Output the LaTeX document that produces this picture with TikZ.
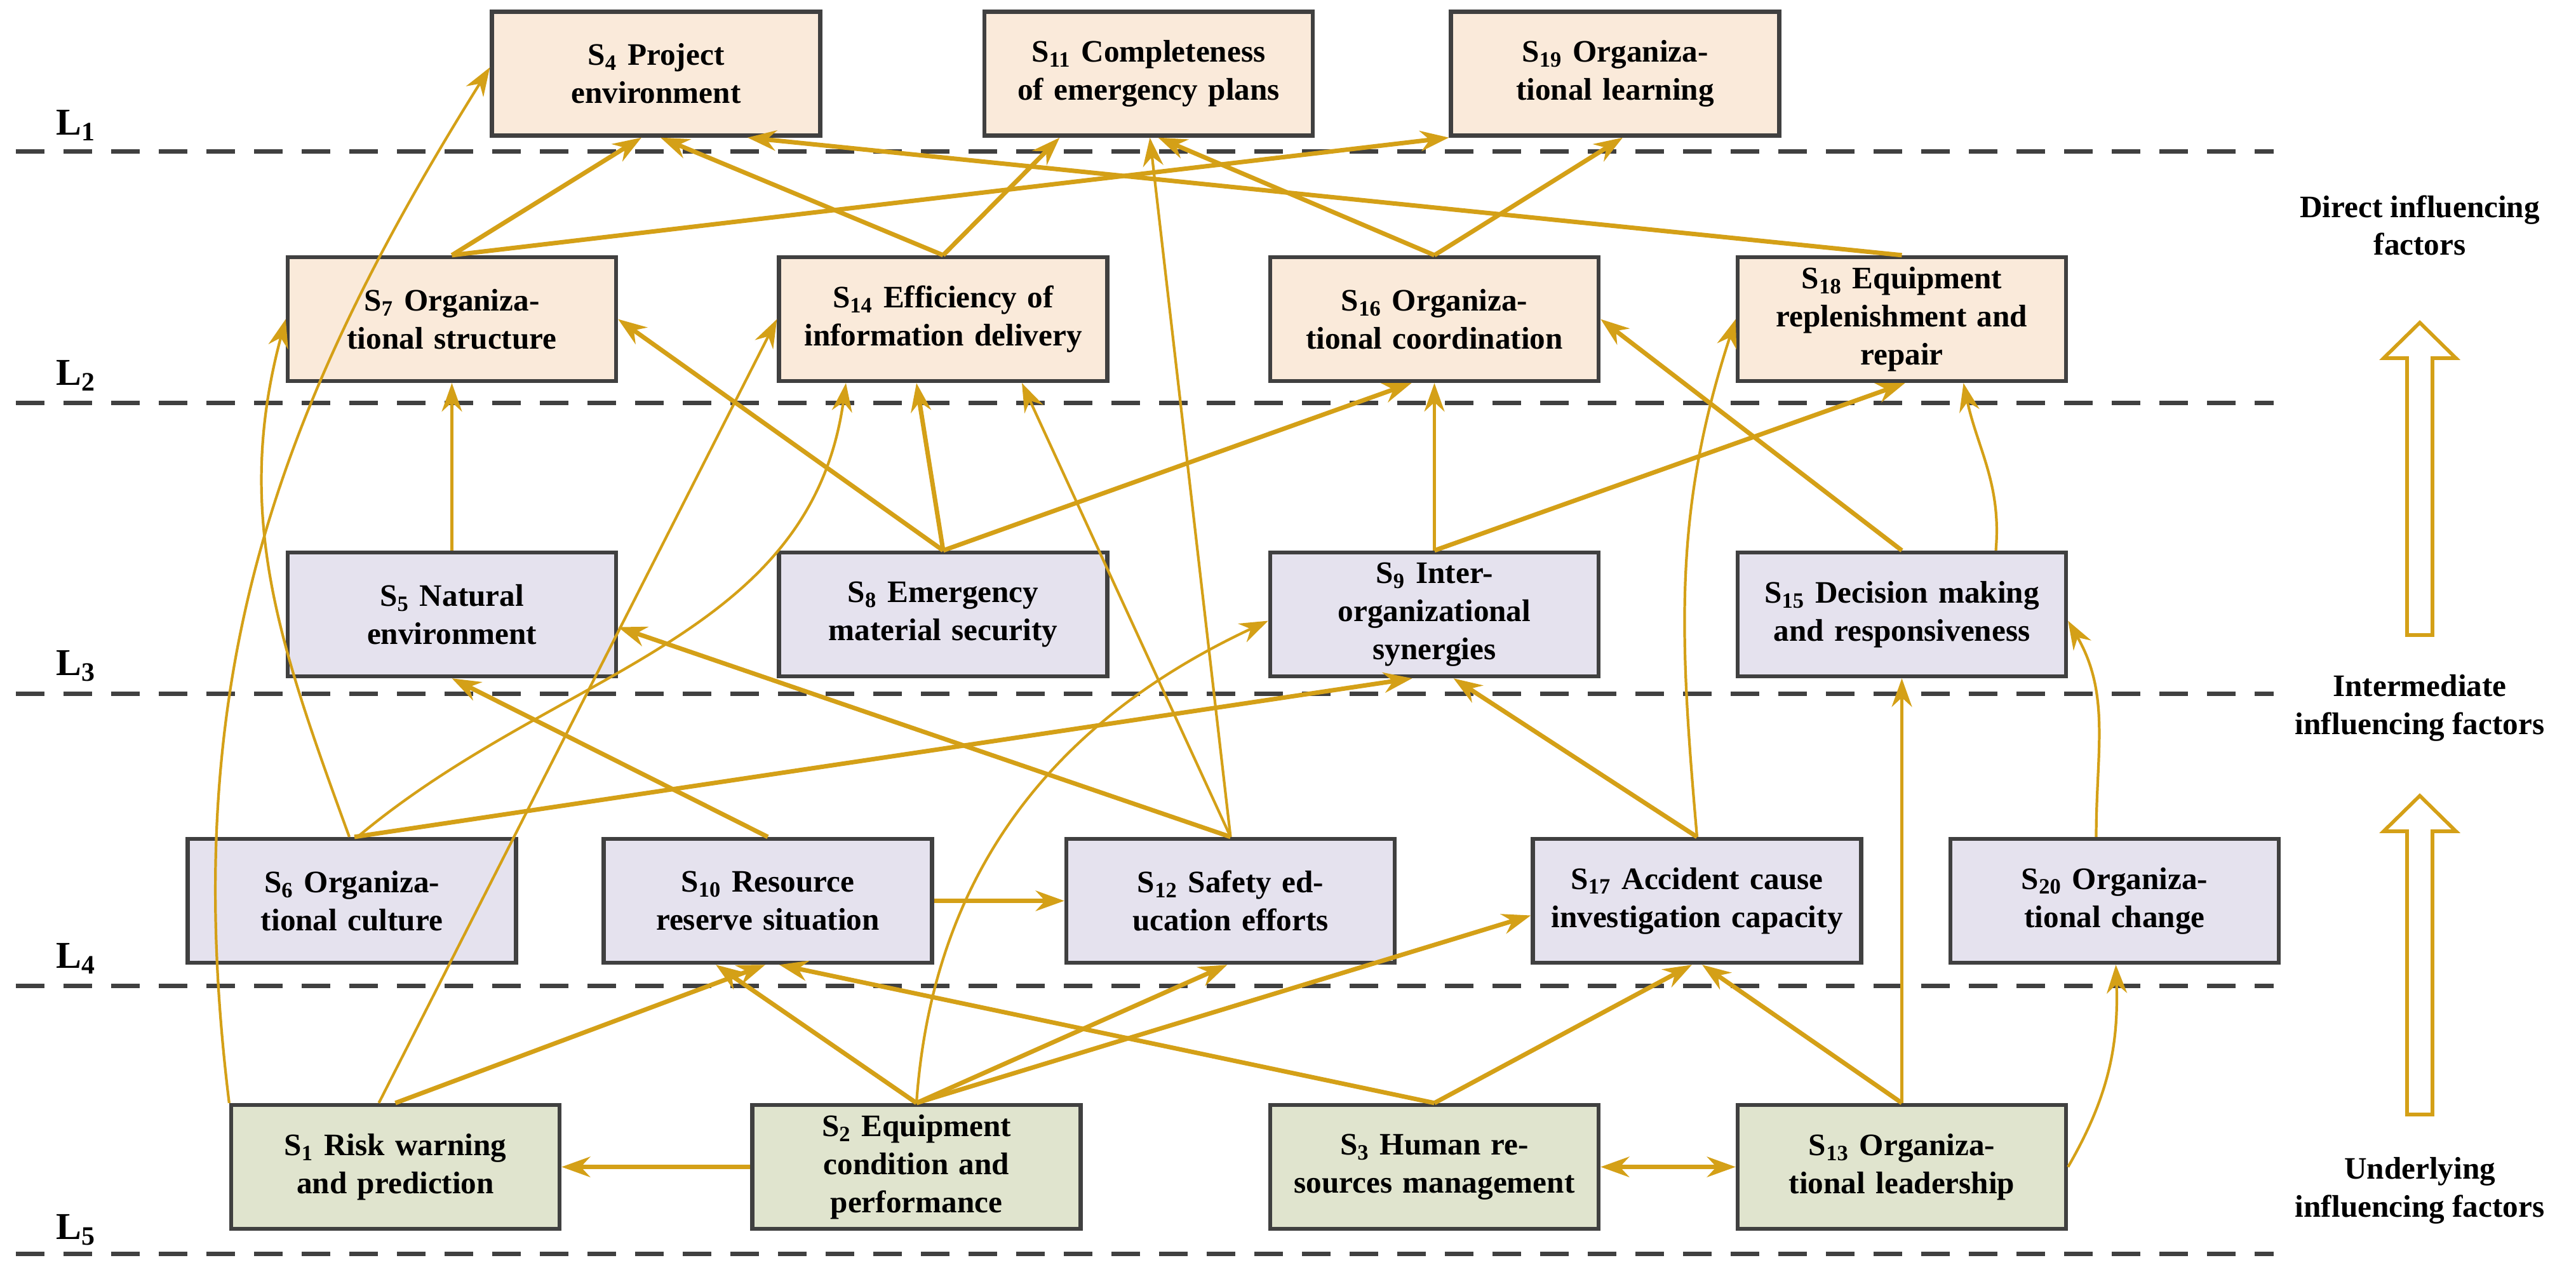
\documentclass[tikz,border=0pt]{standalone}
\usepackage{fontspec}
\setmainfont{Liberation Serif}
\usetikzlibrary{arrows.meta}
\definecolor{gold}{RGB}{212,160,23}
\definecolor{frame}{RGB}{64,64,64}
\definecolor{topfill}{RGB}{250,234,218}
\definecolor{midfill}{RGB}{229,226,238}
\definecolor{lowfill}{RGB}{224,228,206}
\tikzset{
  box/.style={draw=frame,line width=1.8pt,minimum width=5.17cm,minimum height=1.95cm,
    inner sep=0pt,text width=4.7cm,align=center,font=\fontsize{14}{17}\selectfont\bfseries},
  direct/.style={box,fill=topfill},
  inter/.style={box,fill=midfill},
  under/.style={box,fill=lowfill},
  conn/.style={draw=gold,line width=2pt,-{Stealth[length=4.5mm,width=3.2mm]}},
  thin/.style={conn,line width=1.2pt},
  level/.style={draw=frame,line width=2pt,dash pattern=on 4.5mm off 3mm},
  lab/.style={font=\fontsize{17}{20}\selectfont\bfseries},
  side/.style={font=\fontsize{14}{17}\selectfont\bfseries,align=center},
  hollow/.style={draw=gold,line width=1.6pt,fill=white}
}
\newcommand{\sid}[1]{S\textsubscript{#1}}
\begin{document}
\begin{tikzpicture}
\useasboundingbox (0,0) rectangle (40.56,-20.02);
% level lines
\foreach \y/\n/\ly in {-2.38/1/-1.97,-6.34/2/-5.91,-10.92/3/-10.49,-15.52/4/-15.09,-19.74/5/-19.37}{
  \draw[level] (0.25,\y) -- (35.8,\y);
  \node[lab] (l\n) at (1.2,\ly) {L\textsubscript{\n}};
}
% direct factors
\node[direct] (s4) at (10.33,-1.16) {\sid{4} Project\\environment};
\node[direct] (s11) at (18.085,-1.16) {\sid{11} Completeness of emergency plans};
\node[direct] (s19) at (25.43,-1.16) {\sid{19} Organizational learning};
\node[direct] (s7) at (7.115,-5.025) {\sid{7} Organizational structure};
\node[direct] (s14) at (14.85,-5.025) {\sid{14} Efficiency of information delivery};
\node[direct] (s16) at (22.585,-5.025) {\sid{16} Organizational coordination};
\node[direct] (s18) at (29.945,-5.025) {\sid{18} Equipment\\replenishment and\\repair};
% intermediate factors
\node[inter] (s5) at (7.115,-9.675) {\sid{5} Natural\\environment};
\node[inter] (s8) at (14.85,-9.675) {\sid{8} Emergency\\material security};
\node[inter] (s9) at (22.585,-9.675) {\sid{9} Inter-\\organizational\\synergies};
\node[inter] (s15) at (29.945,-9.675) {\sid{15} Decision making and responsiveness};
\node[inter] (s6) at (5.54,-14.185) {\sid{6} Organizational culture};
\node[inter] (s10) at (12.09,-14.185) {\sid{10} Resource reserve situation};
\node[inter] (s12) at (19.375,-14.185) {\sid{12} Safety education efforts};
\node[inter] (s17) at (26.72,-14.185) {\sid{17} Accident cause investigation capacity};
\node[inter] (s20) at (33.295,-14.185) {\sid{20} Organizational change};
% underlying factors
\node[under] (s1) at (6.225,-18.375) {\sid{1} Risk warning and prediction};
\node[under] (s2) at (14.43,-18.375) {\sid{2} Equipment\\condition and\\performance};
\node[under] (s3) at (22.585,-18.375) {\sid{3} Human resources management};
\node[under] (s13) at (29.945,-18.375) {\sid{13} Organizational leadership};
% to level 1
\draw[thin] (s1.north west) to[out=97,in=238] ([yshift=1mm]s4.west);
\draw[conn] (s7.north) -- ([xshift=-2.3mm]s4.south);
\draw[conn] (s14.north) -- ([xshift=0.7mm]s4.south);
\draw[conn] (s18.north) -- ([xshift=14.4mm]s4.south);
\draw[conn] (s7.north) -- (s19.south west);
\draw[conn] (s14.north) -- ([xshift=-14mm]s11.south);
\draw[conn] (s16.north) -- ([xshift=1.5mm]s11.south);
\draw[thin] (s12.north) -- ([xshift=0.2mm]s11.south);
\draw[conn] (s16.north) -- ([xshift=1.2mm]s19.south);
% to level 2
\draw[thin] (s5) -- (s7);
\draw[conn] (s8.north) -- (s7.east);
\draw[conn] (s8.north) -- ([xshift=-4.2mm]s14.south);
\draw[conn] (s8.north) -- ([xshift=-3.6mm]s16.south);
\draw[thin] ([xshift=-2.6mm]s1.north) -- (s14.west);
\draw[thin] ([xshift=-0.4mm]s6.north) to[out=110,in=255] (s7.west);
\draw[thin] ([xshift=0.9mm]s6.north) to[out=40,in=262] ([xshift=-15.3mm]s14.south);
\draw[thin] (s12.north) -- ([xshift=12.4mm]s14.south);
\draw[thin] (s9) -- (s16);
\draw[conn] (s9.north) -- ([xshift=0.5mm]s18.south);
\draw[conn] ([xshift=0mm]s15.north) -- (s16.east);
\draw[thin] (s17.north) to[out=95,in=252] (s18.west);
\draw[thin] ([xshift=14.8mm]s15.north) to[out=85,in=282] ([xshift=9.7mm]s18.south);
% to level 3
\draw[conn] ([xshift=0.4mm]s6.north) -- ([xshift=-3.5mm]s9.south);
\draw[conn] (s12.north) -- ([yshift=-2mm]s5.east);
\draw[conn] (s10.north) -- (s5.south);
\draw[thin] (s2.north) to[out=86,in=205] ([yshift=-1mm]s9.west);
\draw[conn] (s17.north) -- ([xshift=3mm]s9.south);
\draw[thin] (s13) -- (s15);
\draw[thin] ([xshift=-2.9mm]s20.north) to[out=90,in=-60] ([yshift=-1mm]s15.east);
% to level 4
\draw[conn] (s10.east) -- (s12.west);
\draw[conn] (s2.north) -- ([xshift=-8.2mm]s10.south);
\draw[conn] (s2.north) -- ([xshift=-0.5mm]s12.south);
\draw[conn] (s2.north) -- ([yshift=-2.3mm]s17.west);
\draw[conn] (s1.north) -- ([xshift=-0.4mm]s10.south);
\draw[conn] (s3.north) -- ([xshift=1.8mm]s10.south);
\draw[conn] (s3.north) -- ([xshift=-0.8mm]s17.south);
\draw[conn] (s13.north) -- ([xshift=0.8mm]s17.south);
\draw[thin] (s13.east) to[out=60,in=272] ([xshift=0.2mm]s20.south);
% level 5
\draw[conn] (s2) -- (s1);
\draw[conn,{Stealth[length=4.5mm,width=3.2mm]}-{Stealth[length=4.5mm,width=3.2mm]}] (s3) -- (s13);
% side labels
\node[side] (direct) at (38.1,-3.55) {Direct influencing\\factors};
\node[side] (middle) at (38.1,-11.15) {Intermediate\\influencing factors};
\node[side] (lower) at (38.1,-18.75) {Underlying\\influencing factors};
\draw[hollow] (37.9,-10.0) -- (37.9,-5.64) -- (37.53,-5.64) -- (38.1,-5.08) -- (38.67,-5.64) -- (38.3,-5.64) -- (38.3,-10.0) -- cycle;
\draw[hollow] (37.9,-17.55) -- (37.9,-13.09) -- (37.53,-13.09) -- (38.1,-12.53) -- (38.67,-13.09) -- (38.3,-13.09) -- (38.3,-17.55) -- cycle;
\end{tikzpicture}
\end{document}
